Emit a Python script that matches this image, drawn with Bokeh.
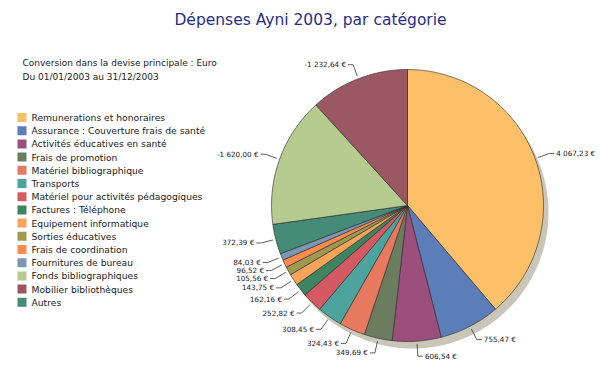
import math
from bokeh.plotting import figure
from bokeh.models import Range1d
from bokeh.core.properties import value
from bokeh.embed import file_html
from bokeh.resources import INLINE

title = "Dépenses Ayni 2003, par catégorie"
subtitle = ["Conversion dans la devise principale : Euro", "Du 01/01/2003 au 31/12/2003"]

categories = [
    "Remunerations et honoraires",
    "Assurance : Couverture frais de santé",
    "Activités éducatives en santé",
    "Frais de promotion",
    "Matériel bibliographique",
    "Transports",
    "Matériel pour activités pédagogiques",
    "Factures : Téléphone",
    "Equipement informatique",
    "Sorties éducatives",
    "Frais de coordination",
    "Fournitures de bureau",
    "Fonds bibliographiques",
    "Mobilier bibliothèques",
    "Autres",
]
amounts = [4067.23, 755.47, 606.54, 349.69, 324.43, 308.45, 252.82, 162.16,
           143.75, 105.56, 96.52, 84.03, -1620.00, -1232.64, 372.39]
colors = ["#FDC068", "#5B7DB8", "#9C4E7C", "#6B7D5E", "#E6795E", "#4DA39E",
          "#D35A63", "#3E8460", "#F7A45A", "#9E9A50", "#FF8B4D", "#7A98B6",
          "#B6CB90", "#9C5862", "#468A78"]

# layout (reference pixel coordinates)
CX, CY, R = 407.0, 205.0, 136.0
FONT = "DejaVu Sans"

p = figure(width=600, height=377, x_range=Range1d(0, 600), y_range=Range1d(377, 0),
           output_backend="svg", toolbar_location=None, min_border=0,
           x_axis_type=None, y_axis_type=None)
p.grid.visible = False
p.outline_line_color = None
p.background_fill_color = "white"
p.border_fill_color = "white"


def fmt(v):
    s = f"{abs(v):,.2f}".replace(",", " ").replace(".", ",")
    return ("-" if v < 0 else "") + s + " €"


def arc_pts(cx, cy, r, a0, a1, n):
    xs, ys = [], []
    for k in range(n + 1):
        a = math.radians(a0 + (a1 - a0) * k / n)
        xs.append(cx + r * math.sin(a))
        ys.append(cy - r * math.cos(a))
    return xs, ys

# shadow
sx, sy = arc_pts(CX + 5, CY + 7, R, 0, 360, 180)
p.patch(sx, sy, fill_color="#C9C6B8", line_color=None)

order = [i for i, v in enumerate(amounts) if v >= 0] + [i for i, v in enumerate(amounts) if v < 0]
total = sum(abs(v) for v in amounts)

xs_all, ys_all, cols = [], [], []
label_info = []
acc = 0.0
for i in order:
    a0 = acc / total * 360
    acc += abs(amounts[i])
    a1 = acc / total * 360
    n = max(2, int((a1 - a0) / 2) + 2)
    ax, ay = arc_pts(CX, CY, R, a0, a1, n)
    xs_all.append([CX] + ax + [CX])
    ys_all.append([CY] + ay + [CY])
    cols.append(colors[i])
    mid = math.radians((a0 + a1) / 2)
    label_info.append((i, mid))

p.patches(xs_all, ys_all, fill_color=cols, line_color="#2a2a2a", line_width=0.6)

# labels with leader lines
left, right = [], []
for i, mid in label_info:
    ux, uy = math.sin(mid), math.cos(mid)
    start = (CX + (R + 3) * ux, CY - (R + 3) * uy)
    elbow = (CX + (R + 15) * ux, CY - (R + 15) * uy)
    item = {"i": i, "start": start, "ex": elbow[0], "ey": elbow[1]}
    (right if ux >= 0 else left).append(item)

for group in (left, right):
    group.sort(key=lambda d: d["ey"])
    for k in range(1, len(group)):
        if group[k]["ey"] < group[k - 1]["ey"] + 8:
            group[k]["ey"] = group[k - 1]["ey"] + 8

lxs, lys, tx, ty, tt, ta = [], [], [], [], [], []
for side, group in (("left", left), ("right", right)):
    sgn = -1 if side == "left" else 1
    for d in group:
        sx0, sy0 = d["start"]
        lxs.append([sx0, d["ex"], d["ex"] + sgn * 5])
        lys.append([sy0, d["ey"], d["ey"]])
        tx.append(d["ex"] + sgn * 7)
        ty.append(d["ey"])
        tt.append(fmt(amounts[d["i"]]))
        ta.append("right" if side == "left" else "left")

p.multi_line(lxs, lys, line_color="#333333", line_width=0.8)
p.text(x=tx, y=ty, text=tt, text_align=ta, text_baseline="middle",
       text_font=value(FONT), text_font_size="7.2px", text_color="#222222")

# title
p.text(x=[310], y=[19], text=[title], text_align="center", text_baseline="middle",
       text_font=value(FONT), text_font_size="15.5px", text_color="#1F2F86")

# subtitle
p.text(x=[22, 22], y=[62, 76], text=subtitle, text_align="left", text_baseline="middle",
       text_font=value(FONT), text_font_size="9px", text_color="#222222")

# legend
ly = [117 + k * 13.2 for k in range(len(categories))]
p.rect(x=[21.5] * len(categories), y=ly, width=9, height=9,
       fill_color=colors, line_color=None)
p.text(x=[31] * len(categories), y=ly, text=categories, text_align="left",
       text_baseline="middle", text_font=value(FONT), text_font_size="9.2px",
       text_color="#222222")

open("out.html", "w").write(file_html(p, INLINE))
